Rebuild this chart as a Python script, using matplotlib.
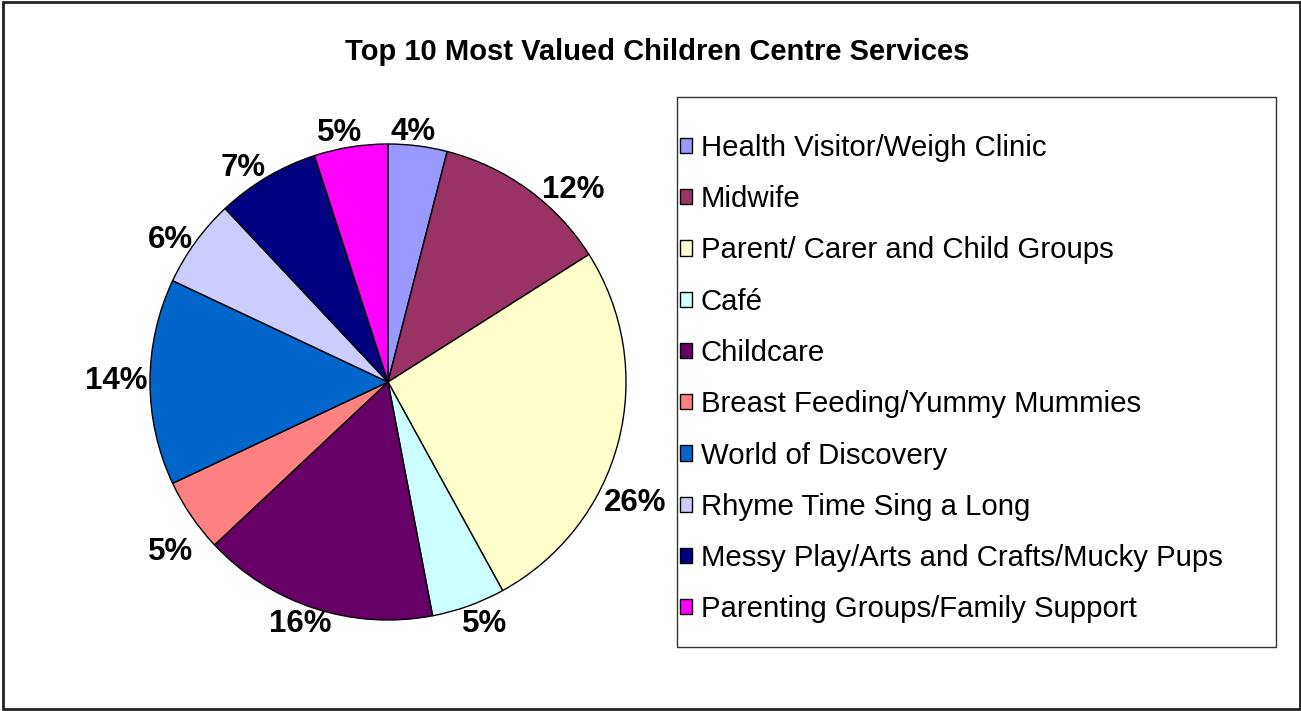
import matplotlib
matplotlib.use("Agg")
import numpy as np
import matplotlib.pyplot as plt
from matplotlib.patches import Rectangle

# --- Data ---
services = [
    "Health Visitor/Weigh Clinic",
    "Midwife",
    "Parent/ Carer and Child Groups",
    "Café",
    "Childcare",
    "Breast Feeding/Yummy Mummies",
    "World of Discovery",
    "Rhyme Time Sing a Long",
    "Messy Play/Arts and Crafts/Mucky Pups",
    "Parenting Groups/Family Support",
]
shares = [4, 12, 26, 5, 16, 5, 14, 6, 7, 5]
colors = ["#9999FF", "#993366", "#FFFFCC", "#CCFFFF", "#660066",
          "#FF8080", "#0066CC", "#CCCCFF", "#000080", "#FF00FF"]

# small hand tweaks of label placement (pixels, right / down), like Excel's
label_nudge = [(-8, 0), (23, 11), (-19, 54), (6, -2), (-3, -4),
               (3, 23), (3, -4), (-2, 5), (-9, 2), (-7, 0)]

plt.rcParams['font.family'] = ['Liberation Sans', 'DejaVu Sans']

W, H = 1301, 711
fig = plt.figure(figsize=(W / 100, H / 100), dpi=100)

# outer chart border
fig.patches.append(Rectangle((3 / W, 2 / H), (W - 4) / W, (H - 4) / H,
                             transform=fig.transFigure, fill=False,
                             edgecolor="#222222", linewidth=2))

fig.text(657 / W, 1 - 52 / H, "Top 10 Most Valued Children Centre Services",
         ha="center", va="center", fontsize=21, fontweight="bold")

# --- Pie ---
cx, cy, r = 388, 382, 238
ax = fig.add_axes([(cx - r) / W, (H - cy - r) / H, 2 * r / W, 2 * r / H])
wedges, _, autotexts = ax.pie(
    shares, colors=colors, startangle=90, counterclock=False,
    autopct="%.0f%%", pctdistance=1.1,
    wedgeprops=dict(edgecolor="black", linewidth=1),
    textprops=dict(fontsize=22.5, fontweight="bold"))
ax.set_xlim(-1, 1)
ax.set_ylim(-1, 1)

# place labels just outside the rim, box touching the circle
renderer = fig.canvas.get_renderer()
for w, t, (nx, ny) in zip(wedges, autotexts, label_nudge):
    ang = np.deg2rad((w.theta1 + w.theta2) / 2)
    ux, uy = np.cos(ang), np.sin(ang)
    bb = t.get_window_extent(renderer)
    px, py = ax.transData.transform((1.025 * ux, 1.025 * uy))
    px += bb.width / 2 * ux + nx
    py += 11.5 * uy - ny
    t.set_position(ax.transData.inverted().transform((px, py)))
    t.set_ha("center")
    t.set_va("center_baseline")

# --- Legend ---
lx0, ly0, lx1, ly1 = 677, 97, 1276, 647
fig.patches.append(Rectangle((lx0 / W, 1 - ly1 / H), (lx1 - lx0) / W,
                             (ly1 - ly0) / H, transform=fig.transFigure,
                             fill=False, edgecolor="#333333", linewidth=1))
fig.legend(wedges, services, loc="upper left",
           bbox_to_anchor=(lx0 / W, 1 - 131 / H), frameon=False,
           fontsize=21.2, handlelength=0.42, handleheight=0.42,
           handletextpad=0.28, labelspacing=0.79, borderaxespad=0,
           borderpad=0.1)

fig.savefig("out.png", dpi=100)
